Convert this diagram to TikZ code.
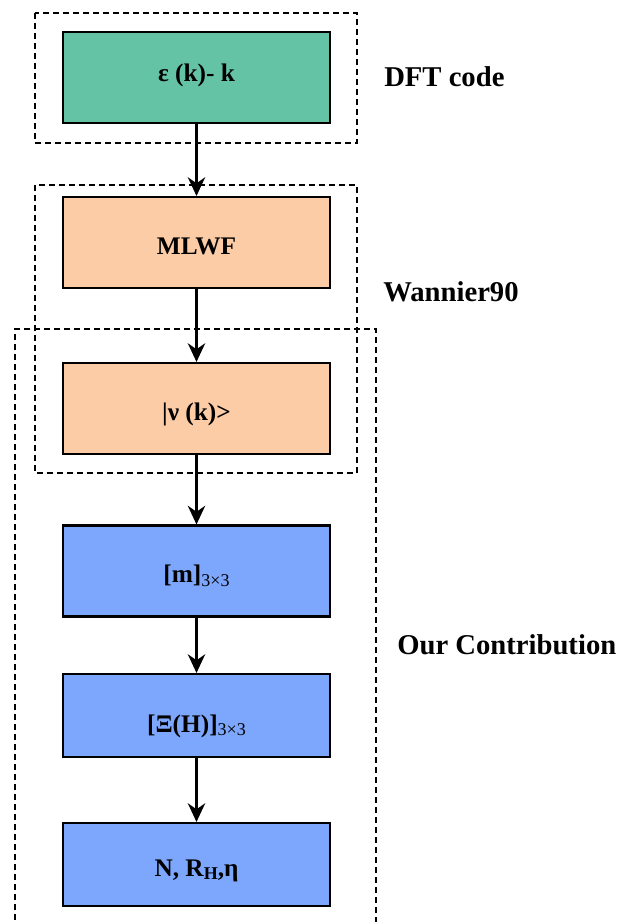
\documentclass[tikz,border=0pt]{standalone}
\usepackage{fontspec}
\setmainfont{Liberation Serif}
\usetikzlibrary{arrows.meta}
\definecolor{dftgreen}{RGB}{101,195,165}
\definecolor{wanpeach}{RGB}{252,204,166}
\definecolor{ourblue}{RGB}{125,166,253}
\newcommand{\lowidx}[1]{\raisebox{-2.5pt}{\fontsize{13.5}{15}\selectfont #1}}

\begin{document}
\begin{tikzpicture}[x=0.75pt,y=-0.75pt,
  stepbox/.style={draw,line width=1.8pt,minimum width=200pt,minimum height=68pt,inner sep=0pt,
    font=\fontsize{19}{22}\selectfont\bfseries,text height=18.5pt,text depth=1pt},
  frame/.style={line width=1.9pt,dash pattern=on 4.5pt off 3pt},
  flow/.style={line width=1.8pt,-{Stealth[length=14pt,width=13pt,inset=4.5pt]}},
  side/.style={anchor=base west,inner sep=0pt,font=\fontsize{21.5}{25}\selectfont\bfseries}]
%\draw [help lines] (0,0) grid (622,922);
\useasboundingbox (0,0) rectangle (622,922);
% dashed groups
\draw [frame] (35,13) rectangle (357,143);
\draw [frame] (35,185) rectangle (357,473);
\draw [frame] (15,930)--(15,329)--(376,329)--(376,930);
% steps
\node [stepbox, fill=dftgreen, text height=8pt, text depth=2pt] (eps) at (196.5,77.5) {ε (k)- k};
\node [stepbox, fill=wanpeach] (mlwf) at (196.5,242.5) {MLWF};
\node [stepbox, fill=wanpeach] (ket) at (196.5,408.5) {|ν (k)>};
\node [stepbox, fill=ourblue] (mmat) at (196.5,571) {[m]\lowidx{\mdseries 3×3}};
\node [stepbox, fill=ourblue, minimum height=62pt, text height=26pt] (ximat) at (196.5,715.5) {[Ξ(H)]\lowidx{\mdseries 3×3}};
\node [stepbox, fill=ourblue, minimum height=62pt] (coef) at (196.5,864.5) {N, R\lowidx{H},η};
\draw [flow] (eps)--(mlwf);
\draw [flow] (mlwf)--(ket);
\draw [flow] (ket)--(mmat);
\draw [flow] (mmat)--(ximat);
\draw [flow] (ximat)--(coef);
% side labels
\node [side] (dftlab) at (384,86) {DFT code};
\node [side] (wanlab) at (383,301) {Wannier90};
\node [side] (ourlab) at (397,654) {Our Contribution};
\end{tikzpicture}
\end{document}
